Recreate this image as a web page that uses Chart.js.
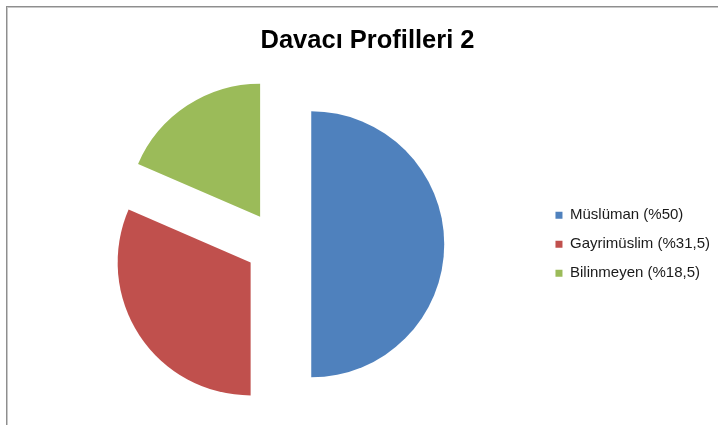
<!DOCTYPE html>
<html lang="tr">
<head>
<meta charset="UTF-8">
<title>Davacı Profilleri 2</title>
<script src="https://cdn.jsdelivr.net/npm/chart.js@4/dist/chart.umd.min.js"></script>
<style>
  * { box-sizing: border-box; margin: 0; padding: 0; }
  html, body { width: 718px; height: 425px; overflow: hidden; background: #fff; }
  .frame { position: absolute; left: 6px; top: 6px; width: 730px; height: 440px;
    border-left: 1px solid #8e8e8e; border-top: 1px solid #8e8e8e;
    box-shadow: inset 1px 1px 0 #c8c8c8; }
  canvas { position: absolute; left: 7px; top: 7px; }
</style>
</head>
<body>
<div class="frame"></div>
<canvas id="chart" width="720" height="425"></canvas>
<script>
const title = 'Davacı Profilleri 2'
const categories = ['Müslüman (%50)', 'Gayrimüslim (%31,5)', 'Bilinmeyen (%18,5)']
const values = [50, 31.5, 18.5]
const colors = ['#4F81BD', '#C0504D', '#9BBB59']

// pull every slice out from the centre along its middle angle
const EXPLODE = 33
const explode = {
  id: 'explode',
  beforeDatasetsDraw(chart) {
    const { left, right, top, bottom } = chart.chartArea
    const cx = (left + right) / 2
    const cy = (top + bottom) / 2
    chart.getDatasetMeta(0).data.forEach(arc => {
      const mid = (arc.startAngle + arc.endAngle) / 2
      arc.x = cx + Math.cos(mid) * EXPLODE
      arc.y = cy + Math.sin(mid) * EXPLODE
    })
  }
}

Chart.defaults.font.family = '"Liberation Sans", Arial, sans-serif'

new Chart(document.getElementById('chart'), {
  type: 'pie',
  data: {
    labels: categories,
    datasets: [{ data: values, backgroundColor: colors, borderWidth: 0 }]
  },
  options: {
    responsive: false,
    animation: false,
    events: [],
    radius: 133,
    layout: { padding: { left: 8, right: 7, top: 0, bottom: 0 } },
    plugins: {
      title: {
        display: true, text: title, color: '#000',
        font: { size: 25.5, weight: 'bold', lineHeight: 1.2 },
        padding: { top: 19, bottom: 0 }
      },
      legend: {
        position: 'right',
        fullSize: false,
        labels: { boxWidth: 7, boxHeight: 7, padding: 14, color: '#1a1a1a', font: { size: 15 } }
      },
      tooltip: { enabled: false }
    }
  },
  plugins: [explode]
})
</script>
</body>
</html>
